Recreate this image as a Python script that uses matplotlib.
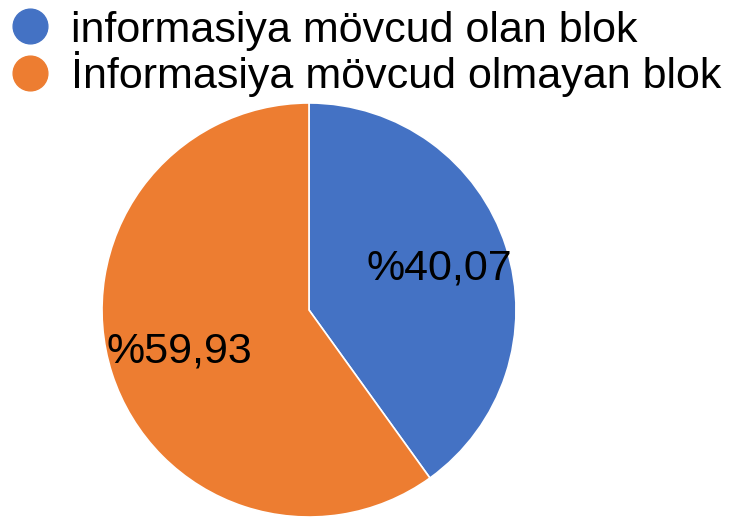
import matplotlib
matplotlib.use("Agg")
import matplotlib.pyplot as plt
from matplotlib.lines import Line2D

labels = ["informasiya mövcud olan blok", "İnformasiya mövcud olmayan blok"]
values = [40.07, 59.93]
colors = ["#4472C4", "#ED7D31"]

plt.rcParams['font.family'] = ['Liberation Sans', 'DejaVu Sans']

fig = plt.figure(figsize=(7.49, 5.17), dpi=100)
ax = fig.add_axes([0.1362, 0.0, 0.5527, 0.8008])

def fmt(p):
    return "%" + f"{p:.2f}".replace(".", ",")

ax.pie(values, colors=colors, startangle=90, counterclock=False,
       autopct=fmt, pctdistance=0.66,
       wedgeprops=dict(edgecolor="white", linewidth=1.2),
       textprops=dict(fontsize=31, color="black"))
ax.set_aspect('auto')
ax.set_xlim(-1, 1)
ax.set_ylim(-1, 1)

handles = [Line2D([0], [0], marker='o', linestyle='', markersize=25,
                  markerfacecolor=c, markeredgecolor=c) for c in colors]
fig.legend(handles, labels, loc='upper left', bbox_to_anchor=(-0.012, 1.013),
           frameon=False, fontsize=31, handletextpad=0.45, labelspacing=0.02,
           borderaxespad=0, handlelength=1.0)

fig.savefig("out.png", dpi=100)
